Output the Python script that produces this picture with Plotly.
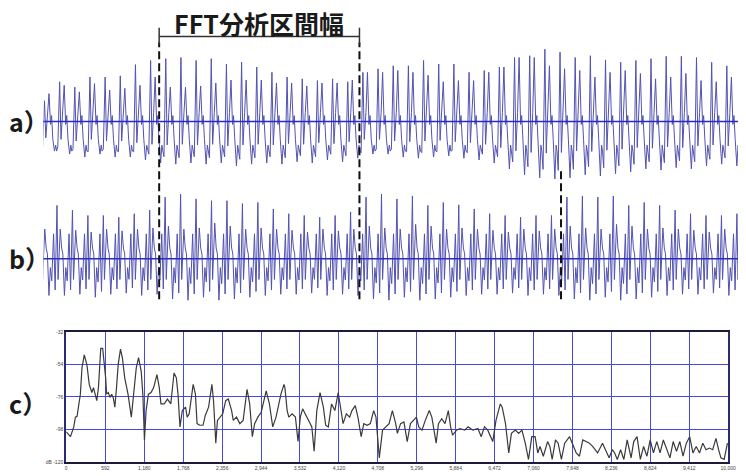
import plotly.graph_objects as go

# ---------------- data ----------------
# time axis of panels a) and b) in ms
time_range_ms = [0, 160.9]
window_marks_ms = [26.8, 73.2, 119.9]      # FFT window borders (dashed lines)

# a) recorded waveform: one entry per pitch period
a_t0_ms = 0.23
a_period_ms = 3.513
a_peak1 = [0.35, 0.67, 0.58, 0.75, 0.75, 0.77, 0.96, 1.03, 1.06, 1.08, 1.03, 1.06,
           0.97, 1.0, 0.92, 0.83, 0.75, 0.72, 0.69, 0.72, 0.67, 0.83, 0.89, 0.94,
           0.94, 1.03, 0.97, 0.97, 0.83, 0.86, 0.92, 1.08, 1.11, 1.22, 1.17, 1.08,
           1.11, 1.04, 1.0, 1.03, 1.06, 1.1, 1.1, 1.08, 1.0, 0.94]
a_peak2 = [0.47, 0.61, 0.5, 0.64, 0.53, 0.56, 0.61, 0.75, 0.58, 0.58, 0.6, 0.65,
           0.7, 0.7, 0.7, 0.65, 0.65, 0.6, 0.65, 0.65, 0.7, 0.83, 0.83, 0.86,
           0.83, 0.78, 0.67, 0.69, 0.69, 0.83, 0.92, 1.08, 1.08, 0.94, 0.89, 0.86,
           0.75, 0.83, 0.86, 0.81, 0.72, 0.75, 0.81, 0.69, 0.67, 0.75]
a_trough = [0.5, 0.55, 0.6, 0.55, 0.6, 0.6, 0.65, 0.7, 0.72, 0.7, 0.72, 0.7,
            0.75, 0.72, 0.7, 0.72, 0.68, 0.7, 0.65, 0.68, 0.62, 0.55, 0.55, 0.6,
            0.62, 0.6, 0.58, 0.62, 0.65, 0.7, 0.8, 0.9, 0.95, 0.97, 0.95, 0.9,
            0.92, 0.88, 0.85, 0.8, 0.82, 0.78, 0.8, 0.75, 0.72, 0.75]

# b) resynthesised waveform
b_t0_ms = 3.13
b_period_ms = 3.58
b_peak1 = [0.9, 0.82, 0.73, 0.73, 0.7, 0.76, 0.82, 1.04, 1.09, 1.01, 0.98, 0.98,
           0.93, 0.95, 0.84, 0.76, 0.73, 0.7, 0.73, 0.79, 1.04, 1.09, 1.01, 1.06,
           0.9, 0.95, 0.91, 0.84, 0.76, 0.73, 0.7, 0.73, 0.73, 1.04, 1.06, 1.04,
           1.06, 0.9, 0.95, 0.9, 0.82, 0.76, 0.73, 0.73, 0.76]
b_peak2 = [0.5, 0.48, 0.45, 0.5, 0.47, 0.5, 0.52, 0.55, 0.5, 0.52, 0.6, 0.55,
           0.5, 0.52, 0.5, 0.48, 0.45, 0.5, 0.47, 0.5, 0.55, 0.52, 0.5, 0.58,
           0.55, 0.5, 0.52, 0.5, 0.48, 0.45, 0.5, 0.47, 0.5, 0.55, 0.52, 0.5,
           0.58, 0.55, 0.5, 0.52, 0.5, 0.48, 0.45, 0.5, 0.47]
b_trough = [0.62, 0.6, 0.65, 0.6, 0.58, 0.62, 0.6, 0.68, 0.7, 0.65, 0.7, 0.68,
            0.65, 0.62, 0.6, 0.6, 0.58, 0.62, 0.6, 0.62, 0.68, 0.7, 0.65, 0.7,
            0.68, 0.65, 0.62, 0.6, 0.6, 0.58, 0.62, 0.6, 0.62, 0.68, 0.7, 0.65,
            0.7, 0.68, 0.65, 0.62, 0.6, 0.6, 0.58, 0.62, 0.6]

# c) spectrum
spec_hz = [0, 65, 114, 139, 164, 214, 238, 273, 313, 348, 388, 412, 437, 462, 487,
           522, 551, 576, 596, 611, 636, 661, 686, 710, 735, 760, 785, 820, 850, 884,
           934, 984, 1023, 1058, 1093, 1133, 1158, 1182, 1207, 1242, 1282, 1321, 1371,
           1406, 1431, 1480, 1530, 1580, 1629, 1664, 1689, 1719, 1754, 1803, 1828,
           1858, 1918, 1952, 1977, 2017, 2067, 2101, 2151, 2201, 2226, 2260, 2285,
           2325, 2365, 2409, 2449, 2499, 2524, 2573, 2623, 2673, 2732, 2772, 2812,
           2847, 2896, 2946, 3021, 3070, 3120, 3170, 3244, 3290,
           3304, 3338, 3363, 3413, 3463, 3502, 3537, 3572, 3612, 3661, 3711, 3746,
           3786, 3835, 3885, 3920, 3960, 4009, 4059, 4109, 4148, 4183, 4233, 4282,
           4317, 4367, 4407, 4456, 4496, 4546, 4595, 4645, 4680, 4730, 4779, 4829,
           4878, 4928, 4978, 5003, 5052, 5102, 5152, 5201, 5251, 5291, 5326, 5375,
           5425, 5485, 5524, 5589, 5624, 5673, 5723, 5773, 5808, 5837, 5897, 5947,
           6021, 6071, 6145, 6220, 6270, 6319, 6369, 6444, 6493, 6558,
           6587, 6637, 6686, 6726, 6786, 6835, 6885, 6935, 6984, 7034, 7084, 7124,
           7158, 7208, 7273, 7307, 7342, 7392, 7432, 7481, 7531, 7605, 7655, 7705,
           7754, 7804, 7854, 7904, 7953, 8028, 8102, 8152, 8202, 8251, 8286, 8326,
           8375, 8425, 8475, 8534, 8574, 8624, 8674, 8723, 8773, 8823, 8872, 8922,
           8972, 9021, 9071, 9121, 9170, 9220, 9270, 9319, 9369, 9419, 9468, 9518,
           9568, 9617, 9667, 9717, 9767, 9816, 9856, 9891, 9940, 9990]
spec_db = [-99.5, -102.8, -96.2, -89.6, -89.1, -74.1, -56.5, -47.6, -54.3, -67.5,
           -73.0, -69.7, -74.1, -78.5, -69.7, -43.2, -43.2, -52.1, -63.1, -74.1,
           -73.0, -76.3, -74.1, -76.3, -82.9, -69.7, -54.3, -43.7, -49.9, -63.1,
           -74.1, -89.6, -74.1, -56.5, -49.4, -58.7, -74.1, -105.0, -85.2, -74.1,
           -73.0, -69.7, -60.9, -69.7, -80.7, -80.7, -77.4, -80.7, -59.8, -63.1,
           -74.1, -96.2, -85.2, -82.9, -89.6, -87.4, -67.5, -74.1, -94.0, -95.1,
           -95.1, -88.5, -82.9, -67.5, -78.5, -107.2, -91.8, -89.6, -87.4, -78.5,
           -77.4, -85.2, -91.8, -89.6, -94.0, -91.8, -70.8, -80.7, -102.8, -94.0,
           -89.6, -86.3, -71.9, -80.7, -96.2, -89.6, -74.1, -67.5,
           -69.7, -85.2, -89.6, -87.4, -89.6, -106.1, -89.6, -84.0, -87.4, -91.8,
           -96.2, -112.7, -85.2, -73.0, -82.9, -95.1, -96.2, -80.7, -85.2, -73.0,
           -82.9, -94.0, -87.4, -89.6, -85.2, -81.8, -89.6, -102.8, -94.0, -95.1,
           -94.0, -85.2, -89.6, -117.1, -98.4, -96.2, -94.0, -85.2, -94.0, -100.6,
           -94.0, -92.9, -106.1, -94.0, -91.8, -89.6, -96.2, -98.4, -91.8, -85.2,
           -89.6, -107.2, -94.0, -90.7, -94.0, -85.2, -96.2, -101.7, -98.4, -97.3,
           -98.4, -96.2, -98.4, -97.3, -102.8, -96.2, -98.4, -106.1, -91.8, -80.7,
           -82.9, -94.0, -113.8, -100.6, -98.4, -100.6, -98.4, -107.2, -118.2, -102.8,
           -102.8, -113.8, -109.4, -116.0, -106.1, -109.4, -118.2, -105.0, -107.2, -118.2,
           -107.2, -102.8, -108.3, -113.8, -116.0, -105.0, -106.1, -107.2, -109.4, -113.8,
           -107.2, -111.6, -117.1, -111.6, -113.8, -118.2, -111.6, -118.2, -105.0, -117.1,
           -106.1, -102.8, -118.2, -109.4, -116.0, -105.0, -113.8, -106.1, -113.8, -105.0,
           -111.6, -117.1, -106.1, -112.7, -106.1, -116.0, -107.2, -102.8, -113.8, -109.4,
           -113.8, -107.2, -111.6, -110.5, -111.6, -103.9, -111.6, -117.1, -118.2, -107.2]
spec_x_ticks = [0, 592, 1180, 1768, 2356, 2944, 3532, 4120, 4708, 5296, 5884,
                6472, 7060, 7648, 8236, 8824, 9412, 10000]
spec_x_labels = ["0", "592", "1,180", "1,768", "2,356", "2,944", "3,532", "4,120",
                 "4,708", "5,296", "5,884", "6,472", "7,060", "7,648", "8,236",
                 "8,824", "9,412", "10,000"]
spec_y_ticks = [-32, -54, -76, -98, -120]
spec_y_labels = ["-32", "-54", "-76", "-98", "dB -120"]

# shape of one pitch period (phase, source, factor)
a_template = [(0.00, 'p1', 1), (0.09, 'tr', -0.55), (0.20, 'c', 0.15), (0.30, 'p2', 1),
              (0.40, 'c', -0.05), (0.47, 'c', 0.10), (0.55, 'c', -0.30), (0.66, 'tr', -1),
              (0.74, 'c', -0.40), (0.80, 'c', -0.50), (0.88, 'tr', -0.85)]
b_template = [(0.00, 'p1', 1), (0.07, 'c', -0.35), (0.13, 'c', 0.05), (0.21, 'p2', 1),
              (0.30, 'c', 0.18), (0.38, 'c', 0.08), (0.48, 'tr', -1), (0.57, 'c', -0.15),
              (0.66, 'tr', -0.6), (0.78, 'c', 0.42), (0.88, 'tr', -0.85)]


def build(t0, period, p1, p2, tr, template):
    ts, vs = [], []
    n = len(p1)
    for k in range(-1, n):
        j = max(k, 0)
        vals = {'p1': p1[j], 'p2': p2[j], 'tr': tr[j], 'c': 1.0}
        for ph, src, f in template:
            ts.append(t0 + (k + ph) * period)
            vs.append(vals[src] * f)
    return ts, vs


a_t, a_v = build(a_t0_ms, a_period_ms, a_peak1, a_peak2, a_trough, a_template)
b_t, b_v = build(b_t0_ms, b_period_ms, b_peak1, b_peak2, b_trough, b_template)

W, H = 746, 476


def py(px):
    return 1 - px / H


WAVE = "#5252b2"
GRID = "#4848e0"
TICKFONT = dict(size=5, color="#444", family="Liberation Sans")

fig = go.Figure()
fig.add_trace(go.Scatter(x=a_t, y=a_v, mode="lines", xaxis="x", yaxis="y",
                         line=dict(color=WAVE, width=1), hoverinfo="skip"))
fig.add_trace(go.Scatter(x=b_t, y=b_v, mode="lines", xaxis="x2", yaxis="y2",
                         line=dict(color=WAVE, width=1), hoverinfo="skip"))
fig.add_trace(go.Scatter(x=spec_hz, y=spec_db, mode="lines", xaxis="x3", yaxis="y3",
                         line=dict(color="#3a3a3a", width=1.2), hoverinfo="skip"))

xdom = [43 / W, 1]
fig.update_layout(
    width=W, height=H, margin=dict(l=0, r=0, t=0, b=0),
    paper_bgcolor="white", plot_bgcolor="white", showlegend=False,
    xaxis=dict(domain=xdom, range=time_range_ms, visible=False, anchor="y"),
    yaxis=dict(domain=[py(184), py(40)], range=[-64 / 60, 80 / 60], visible=False, anchor="x"),
    xaxis2=dict(domain=xdom, range=time_range_ms, visible=False, anchor="y2"),
    yaxis2=dict(domain=[py(333), py(185)], range=[-74 / 60, 74 / 60], visible=False, anchor="x2"),
    xaxis3=dict(domain=[66 / W, 736 / W], range=[0, 10000], anchor="y3",
                tickvals=spec_x_ticks, ticktext=spec_x_labels,
                showgrid=True, gridcolor=GRID, gridwidth=1, zeroline=False,
                showline=True, linecolor="#1c1c3a", linewidth=2, mirror=True,
                ticks="", ticklabelstandoff=0, ticklabeloverflow="allow",
                tickfont=TICKFONT),
    yaxis3=dict(domain=[py(465), py(333)], range=[-120, -32], anchor="x3",
                tickvals=spec_y_ticks, ticktext=spec_y_labels,
                showgrid=True, gridcolor=GRID, gridwidth=1, zeroline=False,
                showline=True, linecolor="#2a2a70", linewidth=2, mirror=True,
                ticks="", tickfont=TICKFONT),
)

shapes = []
# centre lines
for xr, yr in (("x", "y"), ("x2", "y2")):
    shapes.append(dict(type="line", xref=xr + " domain", x0=0, x1=1, yref=yr, y0=0, y1=0,
                       line=dict(color="#2a2ac8", width=1.5)))
# dashed window borders
for i, m in enumerate(window_marks_ms):
    top = 40 if i < 2 else 168
    shapes.append(dict(type="line", xref="x", x0=m, x1=m, yref="paper",
                       y0=py(300), y1=py(top), line=dict(color="#111", width=2, dash="8px,4px")))
# bracket
shapes.append(dict(type="line", xref="x", x0=window_marks_ms[0], x1=window_marks_ms[1],
                   yref="paper", y0=py(34), y1=py(34), line=dict(color="#333", width=1.5)))
for m in window_marks_ms[:2]:
    shapes.append(dict(type="line", xref="x", x0=m, x1=m, yref="paper",
                       y0=py(42), y1=py(25), line=dict(color="#333", width=1.5)))
fig.update_layout(shapes=shapes)

JP = "Noto Sans CJK JP"
ann = [dict(x=(window_marks_ms[0] + window_marks_ms[1]) / 2, xref="x", y=py(20), yref="paper",
            text="<b>FFT分析区間幅</b>", showarrow=False,
            font=dict(family=JP, size=25, color="#1a1a1a"), xanchor="center", yanchor="middle")]
for lab, ypx in (("a）", 120), ("b）", 258), ("c）", 405)):
    ann.append(dict(x=6 / W, xref="paper", y=py(ypx), yref="paper", text="<b>" + lab + "</b>",
                    showarrow=False, xanchor="left", yanchor="middle",
                    font=dict(family=JP, size=25, color="#1a1a1a")))
fig.update_layout(annotations=ann)

fig.write_html("out.html", config={"displayModeBar": False})

# remove the browser's default page margin so the figure sits at the window origin
with open("out.html", encoding="utf-8") as fh:
    page = fh.read()
page = page.replace("<head>", "<head><style>html,body{margin:0;padding:0;overflow:hidden;}</style>", 1)
with open("out.html", "w", encoding="utf-8") as fh:
    fh.write(page)
